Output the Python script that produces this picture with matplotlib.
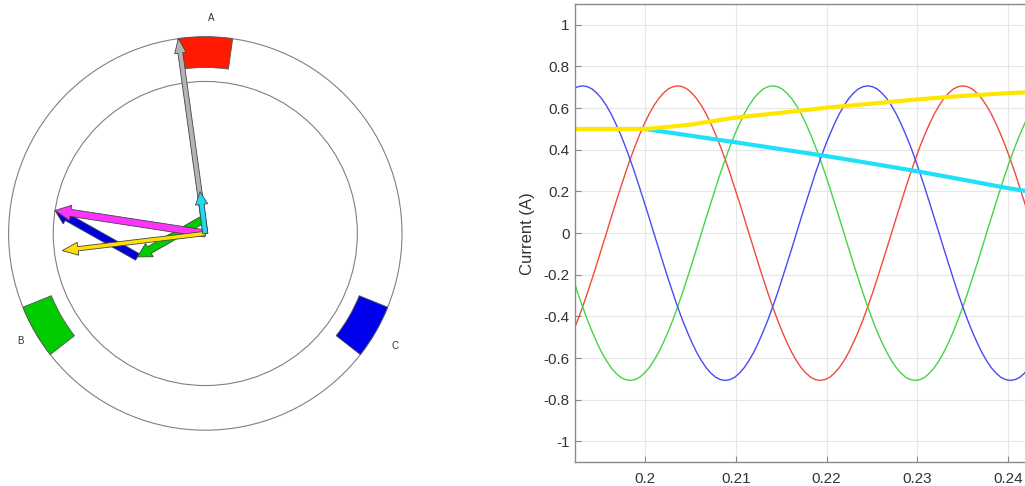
import matplotlib
matplotlib.use("Agg")
import matplotlib.pyplot as plt
from matplotlib.patches import Circle, Wedge

plt.rcParams['font.family'] = ['Liberation Sans', 'DejaVu Sans']

# --- phasor diagram data (outer stator radius = 1) ---
coil_angles = [90, 210, 330]          # winding axes, degrees
coil_colors = ['#ff1a00', '#00cc00', '#0000ee']
inner_radius = 0.773
coil_depth = 0.156

# phase space vectors, drawn tip to tail (A -> B -> C)
phase_dx = [-0.007, -0.338, -0.419]
phase_dy = [0.074, -0.193, 0.236]
phase_arrow_colors = ['#ff1a00', '#00cc00', '#0000dd']

yellow_vec = (-0.727, -0.087)
cyan_vec = (-0.027, 0.2125)
gray_vec = (-0.137, 0.992)

# --- current waveforms ---
t_samples = [
    0.19208, 0.19260, 0.19313, 0.19365, 0.19418, 0.19470, 0.19522, 0.19575, 0.19627, 0.19679,
    0.19732, 0.19784, 0.19836, 0.19889, 0.19941, 0.19993, 0.20046, 0.20098, 0.20151, 0.20203,
    0.20255, 0.20308, 0.20360, 0.20412, 0.20465, 0.20517, 0.20569, 0.20622, 0.20674, 0.20727,
    0.20779, 0.20831, 0.20884, 0.20936, 0.20988, 0.21041, 0.21093, 0.21145, 0.21198, 0.21250,
    0.21302, 0.21355, 0.21407, 0.21460, 0.21512, 0.21564, 0.21617, 0.21669, 0.21721, 0.21774,
    0.21826, 0.21878, 0.21931, 0.21983, 0.22036, 0.22088, 0.22140, 0.22193, 0.22245, 0.22297,
    0.22350, 0.22402, 0.22454, 0.22507, 0.22559, 0.22611, 0.22664, 0.22716, 0.22769, 0.22821,
    0.22873, 0.22926, 0.22978, 0.23030, 0.23083, 0.23135, 0.23187, 0.23240, 0.23292, 0.23345,
    0.23397, 0.23449, 0.23502, 0.23554, 0.23606, 0.23659, 0.23711, 0.23763, 0.23816, 0.23868,
    0.23920, 0.23973, 0.24025, 0.24078, 0.24130, 0.24182, 0.24235]
i_a = [
    -0.473, -0.416,
    -0.354, -0.288, -0.218, -0.147, -0.074, 0.000, 0.074, 0.147, 0.218, 0.288,
    0.354, 0.416, 0.473, 0.525, 0.572, 0.612, 0.646, 0.672, 0.692, 0.703,
    0.707, 0.703, 0.692, 0.672, 0.646, 0.612, 0.572, 0.525, 0.473, 0.416,
    0.354, 0.288, 0.218, 0.147, 0.074, 0.000, -0.074, -0.147, -0.218, -0.288,
    -0.354, -0.416, -0.473, -0.525, -0.572, -0.612, -0.646, -0.672, -0.692, -0.703,
    -0.707, -0.703, -0.692, -0.672, -0.646, -0.612, -0.572, -0.525, -0.473, -0.416,
    -0.354, -0.288, -0.218, -0.147, -0.074, 0.000, 0.074, 0.147, 0.218, 0.288,
    0.354, 0.416, 0.473, 0.525, 0.572, 0.612, 0.646, 0.672, 0.692, 0.703,
    0.707, 0.703, 0.692, 0.672, 0.646, 0.612, 0.572, 0.525, 0.473, 0.416,
    0.354, 0.288, 0.218, 0.147, 0.074]
i_b = [
    -0.218, -0.288,
    -0.354, -0.416, -0.473, -0.525, -0.572, -0.612, -0.646, -0.672, -0.692, -0.703,
    -0.707, -0.703, -0.692, -0.672, -0.646, -0.612, -0.572, -0.525, -0.473, -0.416,
    -0.354, -0.288, -0.218, -0.147, -0.074, 0.000, 0.074, 0.147, 0.218, 0.288,
    0.354, 0.416, 0.473, 0.525, 0.572, 0.612, 0.646, 0.672, 0.692, 0.703,
    0.707, 0.703, 0.692, 0.672, 0.646, 0.612, 0.572, 0.525, 0.473, 0.416,
    0.354, 0.288, 0.218, 0.147, 0.074, 0.000, -0.074, -0.147, -0.218, -0.288,
    -0.354, -0.416, -0.473, -0.525, -0.572, -0.612, -0.646, -0.672, -0.692, -0.703,
    -0.707, -0.703, -0.692, -0.672, -0.646, -0.612, -0.572, -0.525, -0.473, -0.416,
    -0.354, -0.288, -0.218, -0.147, -0.074, 0.000, 0.074, 0.147, 0.218, 0.288,
    0.354, 0.416, 0.473, 0.525, 0.572]
i_c = [
    0.692, 0.703,
    0.707, 0.703, 0.692, 0.672, 0.646, 0.612, 0.572, 0.525, 0.473, 0.416,
    0.354, 0.288, 0.218, 0.147, 0.074, 0.000, -0.074, -0.147, -0.218, -0.288,
    -0.354, -0.416, -0.473, -0.525, -0.572, -0.612, -0.646, -0.672, -0.692, -0.703,
    -0.707, -0.703, -0.692, -0.672, -0.646, -0.612, -0.572, -0.525, -0.473, -0.416,
    -0.354, -0.288, -0.218, -0.147, -0.074, 0.000, 0.074, 0.147, 0.218, 0.288,
    0.354, 0.416, 0.473, 0.525, 0.572, 0.612, 0.646, 0.672, 0.692, 0.703,
    0.707, 0.703, 0.692, 0.672, 0.646, 0.612, 0.572, 0.525, 0.473, 0.416,
    0.354, 0.288, 0.218, 0.147, 0.074, 0.000, -0.074, -0.147, -0.218, -0.288,
    -0.354, -0.416, -0.473, -0.525, -0.572, -0.612, -0.646, -0.672, -0.692, -0.703,
    -0.707, -0.703, -0.692, -0.672, -0.646]

yellow_t = [0.1923, 0.1950, 0.1975, 0.2000, 0.2025, 0.2050, 0.2075, 0.2100, 0.2150, 0.2200,
            0.2250, 0.2300, 0.2350, 0.2400, 0.2420]
yellow_v = [0.500, 0.500, 0.500, 0.500, 0.510, 0.521, 0.538, 0.555, 0.578, 0.602,
            0.622, 0.642, 0.659, 0.672, 0.676]
cyan_t = [0.1923, 0.2000, 0.2050, 0.2100, 0.2150, 0.2200, 0.2250, 0.2300, 0.2350, 0.2400, 0.2420]
cyan_v = [0.500, 0.500, 0.468, 0.436, 0.403, 0.370, 0.334, 0.297, 0.257, 0.216, 0.202]

x_ticks = [0.20, 0.21, 0.22, 0.23, 0.24]
x_labels = ['0.2', '0.21', '0.22', '0.23', '0.24']
y_ticks = [-1, -0.8, -0.6, -0.4, -0.2, 0, 0.2, 0.4, 0.6, 0.8, 1]
y_labels = ['-1', '-0.8', '-0.6', '-0.4', '-0.2', '0', '0.2', '0.4', '0.6', '0.8', '1']

fig = plt.figure(figsize=(10.25, 4.86), dpi=100)

# left: stator with phasors
ax1 = fig.add_axes([0, 0, 420 / 1025, 1])
ax1.set_xlim(-1.0437, 1.0915)
ax1.set_ylim(-1.2837, 1.1871)
ax1.axis('off')

ax1.add_patch(Circle((0, 0), 1.0, fill=False, ec='#808080', lw=0.8))
ax1.add_patch(Circle((0, 0), inner_radius, fill=False, ec='#808080', lw=0.8))
for ang, col in zip(coil_angles, coil_colors):
    ax1.add_patch(Wedge((0, 0), 1.0, ang - 8, ang + 8, width=coil_depth,
                        fc=col, ec='#555555', lw=0.6))

ax1.text(0.029, 1.096, 'A', fontsize=7, color='#333333', ha='center', va='center')
ax1.text(-0.940, -0.549, 'B', fontsize=7, color='#333333', ha='center', va='center')
ax1.text(0.964, -0.571, 'C', fontsize=7, color='#333333', ha='center', va='center')

ec = '#444444'
ax1.arrow(0, 0, gray_vec[0], gray_vec[1], width=0.025, head_width=0.058, head_length=0.075,
          length_includes_head=True, fc='#b4b4b4', ec=ec, lw=0.6, zorder=3)

# phase A vector is short and sits under the cyan arrow
ax1.arrow(0, 0, phase_dx[0], phase_dy[0], width=0.02, head_width=0.02, head_length=0.01,
          length_includes_head=True, fc=phase_arrow_colors[0], ec=ec, lw=0.4, zorder=3)
tx, ty = phase_dx[0], phase_dy[0]
for dx, dy, col in zip(phase_dx[1:], phase_dy[1:], phase_arrow_colors[1:]):
    ax1.arrow(tx, ty, dx, dy, width=0.038, head_width=0.078, head_length=0.07,
              length_includes_head=True, fc=col, ec=ec, lw=0.6, zorder=4)
    tx += dx
    ty += dy

# resultant of the three phase vectors
ax1.arrow(0, 0, sum(phase_dx), sum(phase_dy), width=0.036, head_width=0.078, head_length=0.08,
          length_includes_head=True, fc='#ff33ff', ec=ec, lw=0.6, zorder=5)
ax1.arrow(0, 0, yellow_vec[0], yellow_vec[1], width=0.022, head_width=0.066, head_length=0.08,
          length_includes_head=True, fc='#ffe000', ec=ec, lw=0.6, zorder=6)
ax1.arrow(0, 0, cyan_vec[0], cyan_vec[1], width=0.026, head_width=0.062, head_length=0.065,
          length_includes_head=True, fc='#22d8f2', ec=ec, lw=0.6, zorder=7)

# right: currents
ax2 = fig.add_axes([575 / 1025, 23.7 / 486, 450 / 1025, 458.3 / 486])
ax2.plot(t_samples, i_a, color='#f24a3c', lw=1.0)
ax2.plot(t_samples, i_b, color='#44d444', lw=1.0)
ax2.plot(t_samples, i_c, color='#4a4af2', lw=1.0)
ax2.plot(cyan_t, cyan_v, color='#1ee0f8', lw=3.0)
ax2.plot(yellow_t, yellow_v, color='#ffe600', lw=3.0)

ax2.set_xlim(0.19229, 0.24187)
ax2.set_ylim(-1.1, 1.1)
ax2.set_xticks(x_ticks)
ax2.set_xticklabels(x_labels)
ax2.set_yticks(y_ticks)
ax2.set_yticklabels(y_labels)
ax2.grid(True, color='#e6e6e6', lw=0.8)
ax2.set_axisbelow(True)
for side in ['left', 'bottom', 'top']:
    ax2.spines[side].set_color('#8a8a8a')
    ax2.spines[side].set_linewidth(1.0)
ax2.spines['right'].set_visible(False)
ax2.tick_params(direction='in', length=4, color='#8a8a8a', labelcolor='#333333',
                labelsize=11, pad=4)
ax2.tick_params(axis='x', pad=7)
ax2.set_ylabel('Current (A)', fontsize=12, color='#333333', labelpad=6)

fig.savefig('out.png', dpi=100)
